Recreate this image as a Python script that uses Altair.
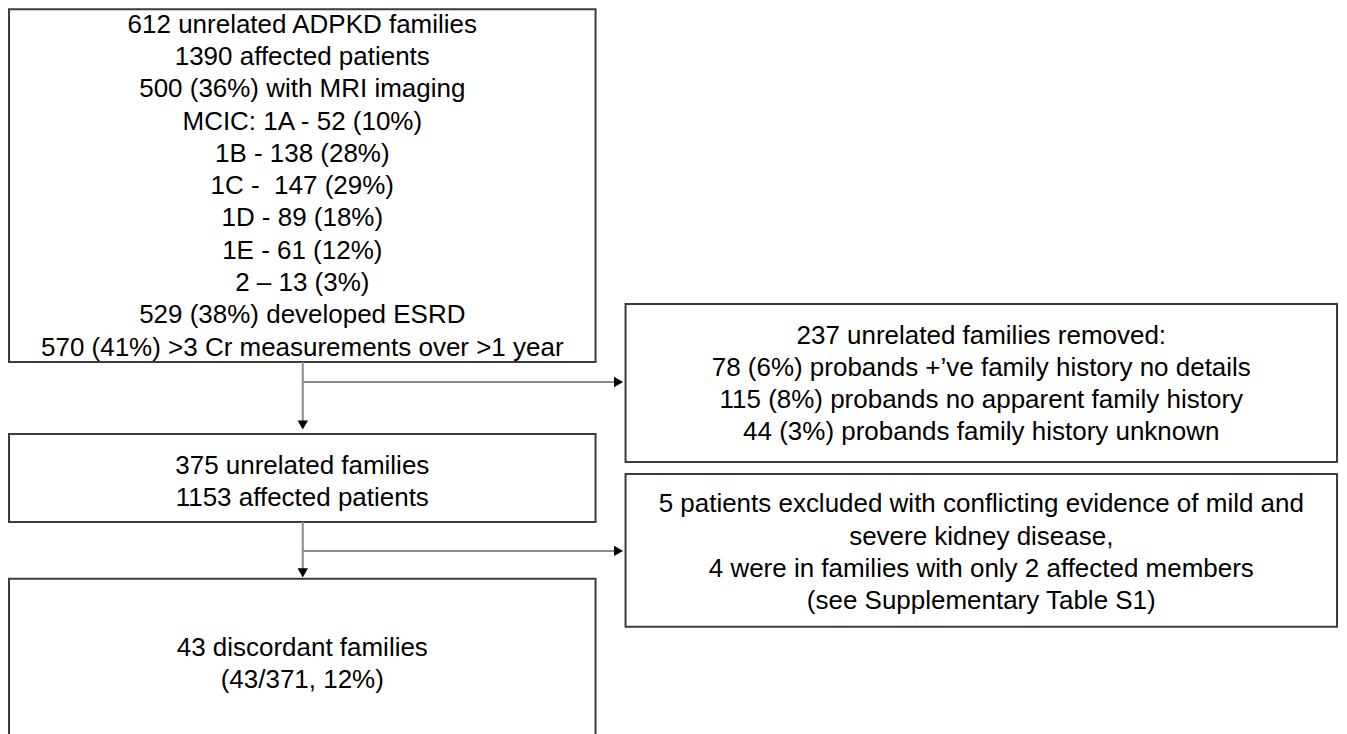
import altair as alt
import pandas as pd

# ---- content ----
main_lines = [
    "612 unrelated ADPKD families",
    "1390 affected patients",
    "500 (36%) with MRI imaging",
    "MCIC: 1A - 52 (10%)",
    "1B - 138 (28%)",
    "1C - \u00a0147 (29%)",
    "1D - 89 (18%)",
    "1E - 61 (12%)",
    "2 \u2013 13 (3%)",
    "529 (38%) developed ESRD",
    "570 (41%) >3 Cr measurements over >1 year",
]
kept_lines = ["375 unrelated families", "1153 affected patients"]
discordant_lines = ["43 discordant families", "(43/371, 12%)"]
removed_lines = [
    "237 unrelated families removed:",
    "78 (6%) probands +\u2019ve family history no details",
    "115 (8%) probands no apparent family history",
    "44 (3%) probands family history unknown",
]
excluded_lines = [
    "5 patients excluded with conflicting evidence of mild and",
    "severe kidney disease,",
    "4 were in families with only 2 affected members",
    "(see Supplementary Table S1)",
]
box_texts = [main_lines, kept_lines, discordant_lines, removed_lines, excluded_lines]

# ---- layout (page pixel coordinates) ----
box_left = [8, 8, 8, 625, 625]
box_right = [595, 595, 595, 1337, 1337]
box_top = [9, 434, 579, 304, 474]
box_bottom = [362, 522, 770, 462, 627]
text_center_y = [186, 482, 664, 384, 553]
line_step = 32.3

# connectors: (x, y, x2, y2)
seg_x = [302, 302, 302, 302]
seg_y = [362, 382, 522, 551]
seg_x2 = [302, 616, 302, 616]
seg_y2 = [425, 382, 572, 551]
# arrow heads
head_x = [302, 618, 302, 618]
head_y = [425, 382, 573, 551]
head_shape = ["triangle-down", "triangle-right", "triangle-down", "triangle-right"]

boxes = pd.DataFrame({"x0": box_left, "x1": box_right, "y0": box_top, "y1": box_bottom})

rows = []
for i, lines in enumerate(box_texts):
    cx = (box_left[i] + box_right[i]) / 2
    n = len(lines)
    for j, t in enumerate(lines):
        rows.append({"x": cx, "y": text_center_y[i] + (j - (n - 1) / 2) * line_step, "t": t})
texts = pd.DataFrame(rows)

segs = pd.DataFrame({"x": seg_x, "y": seg_y, "x2": seg_x2, "y2": seg_y2})
heads = pd.DataFrame({"x": head_x, "y": head_y, "shape": head_shape})

xs = alt.Scale(domain=[8, 1339], nice=False, zero=False)
ys = alt.Scale(domain=[8, 726], nice=False, zero=False, reverse=True)

rects = alt.Chart(boxes).mark_rect(fill="white", stroke="#3c3c3c", strokeWidth=2).encode(
    x=alt.X("x0:Q", scale=xs, axis=None),
    x2="x1:Q",
    y=alt.Y("y0:Q", scale=ys, axis=None),
    y2="y1:Q",
)

lines_layer = alt.Chart(segs).mark_rule(color="#8c8c8c", strokeWidth=2).encode(
    x=alt.X("x:Q", scale=xs, axis=None),
    x2="x2:Q",
    y=alt.Y("y:Q", scale=ys, axis=None),
    y2="y2:Q",
)

heads_layer = alt.Chart(heads).mark_point(filled=True, color="black", opacity=1, size=110).encode(
    x=alt.X("x:Q", scale=xs, axis=None),
    y=alt.Y("y:Q", scale=ys, axis=None),
    shape=alt.Shape("shape:N", scale=None, legend=None),
)

text_layer = alt.Chart(texts).mark_text(
    font="Liberation Sans", fontSize=26, color="black", align="center", baseline="middle"
).encode(
    x=alt.X("x:Q", scale=xs, axis=None),
    y=alt.Y("y:Q", scale=ys, axis=None),
    text="t:N",
)

chart = alt.layer(rects, lines_layer, heads_layer, text_layer).properties(
    width=1331, height=718, padding=0, background="white"
).configure_view(stroke=None)

chart.save("out.html", embed_options={"renderer": "svg", "actions": False})
